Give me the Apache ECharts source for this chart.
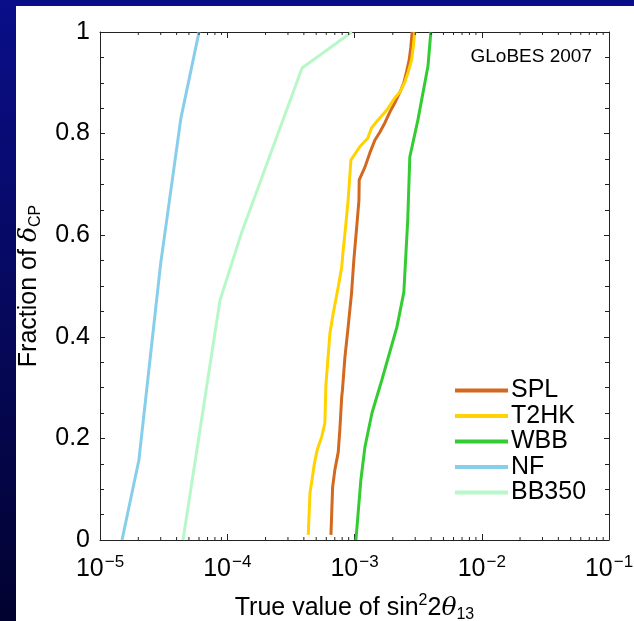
<!DOCTYPE html>
<html>
<head>
<meta charset="utf-8">
<script src="https://cdn.jsdelivr.net/npm/echarts@6/dist/echarts.min.js"></script>
<style>
html,body{margin:0;padding:0;background:#fff;}
#chart{width:634px;height:621px;}
</style>
</head>
<body>
<div id="chart"></div>
<script>
// ---- data ----
const seriesNames = ['SPL', 'T2HK', 'WBB', 'NF', 'BB350'];
const seriesColors = ['#d2691e', '#ffd200', '#33cc33', '#87ceeb', '#b8f8c8'];

const splData = [[6.53e-4,0.01],[6.73e-4,0.104],[7.01e-4,0.138],[7.45e-4,0.173],[7.67e-4,0.217],[7.93e-4,0.281],[8.04e-4,0.295],[8.41e-4,0.36],[8.91e-4,0.419],[9.48e-4,0.486],[9.88e-4,0.551],[1.057e-3,0.636],[1.084e-3,0.669],[1.089e-3,0.709],[1.208e-3,0.734],[1.32e-3,0.762],[1.445e-3,0.787],[1.585e-3,0.803],[1.73e-3,0.821],[1.90e-3,0.843],[2.07e-3,0.86],[2.28e-3,0.882],[2.44e-3,0.9],[2.56e-3,0.921],[2.69e-3,0.945],[2.77e-3,0.97],[2.84e-3,1.0]];
const t2hkData = [[4.33e-4,0.01],[4.47e-4,0.093],[4.66e-4,0.122],[4.82e-4,0.148],[5.09e-4,0.177],[5.52e-4,0.203],[5.85e-4,0.23],[5.96e-4,0.305],[6.41e-4,0.407],[6.81e-4,0.447],[7.45e-4,0.498],[7.93e-4,0.537],[8.15e-4,0.571],[8.51e-4,0.616],[8.91e-4,0.669],[9.37e-4,0.748],[1.10e-3,0.774],[1.27e-3,0.791],[1.36e-3,0.811],[1.53e-3,0.827],[1.79e-3,0.846],[2.07e-3,0.87],[2.28e-3,0.882],[2.49e-3,0.902],[2.64e-3,0.921],[2.81e-3,0.945],[2.89e-3,0.969],[2.98e-3,1.0]];
const wbbData = [[1.026e-3,0],[1.122e-3,0.118],[1.208e-3,0.183],[1.372e-3,0.25],[1.64e-3,0.315],[2.153e-3,0.419],[2.443e-3,0.488],[2.62e-3,0.63],[2.72e-3,0.754],[3.15e-3,0.827],[3.78e-3,0.933],[3.98e-3,1.0]];
const nfData = [[1.49e-5,0],[2.02e-5,0.157],[3.0e-5,0.545],[4.32e-5,0.83],[6.0e-5,1.0]];
const bb350Data = [[4.49e-5,0],[8.77e-5,0.472],[1.30e-4,0.606],[3.87e-4,0.929],[9.55e-4,1.0]];

const xTickValues = [1e-5, 1e-4, 1e-3, 1e-2, 1e-1];
const xTickSup = ['\u22125', '\u22124', '\u22123', '\u22122', '\u22121'];
const xMinorTicks = [2e-5,3e-5,4e-5,5e-5,6e-5,7e-5,8e-5,9e-5,2e-4,3e-4,4e-4,5e-4,6e-4,7e-4,8e-4,9e-4,2e-3,3e-3,4e-3,5e-3,6e-3,7e-3,8e-3,9e-3,2e-2,3e-2,4e-2,5e-2,6e-2,7e-2,8e-2,9e-2];

const FONT = 'Liberation Sans, Arial, Helvetica, sans-serif';
const allData = [splData, t2hkData, wbbData, nfData, bb350Data];

const chart = echarts.init(document.getElementById('chart'), null, {renderer: 'canvas'});

const lineSeries = seriesNames.map((n, i) => ({
  name: n,
  type: 'line',
  xAxisIndex: 0,
  yAxisIndex: 0,
  data: allData[i],
  symbol: 'none',
  smooth: false,
  lineStyle: {color: seriesColors[i], width: 3},
  itemStyle: {color: seriesColors[i]},
  z: 3,
  animation: false
}));

const minorTickSeries = {
  type: 'custom',
  xAxisIndex: 0,
  yAxisIndex: 0,
  silent: true,
  animation: false,
  clip: false,
  data: xMinorTicks.map(v => [v, 0]),
  encode: {x: 0, y: 1},
  renderItem: function (params, api) {
    const v = api.value(0);
    const pb = api.coord([v, 0]);
    const pt = api.coord([v, 1]);
    const st = {stroke: '#222', lineWidth: 1};
    return {
      type: 'group',
      children: [
        {type: 'line', shape: {x1: pb[0], y1: pb[1], x2: pb[0], y2: pb[1] - 3}, style: st},
        {type: 'line', shape: {x1: pt[0], y1: pt[1], x2: pt[0], y2: pt[1] + 3}, style: st}
      ]
    };
  },
  z: 4
};

const axisLineStyle = {show: true, onZero: false, lineStyle: {color: '#222', width: 1}};

const option = {
  backgroundColor: {
    type: 'linear', x: 0, y: 0, x2: 0, y2: 1,
    colorStops: [{offset: 0, color: '#0a0e88'}, {offset: 1, color: '#020230'}]
  },
  animation: false,
  graphic: [
    {type: 'rect', left: 16, top: 6, z: -100, silent: true,
     shape: {width: 618, height: 615}, style: {fill: '#ffffff'}},
    {type: 'text', right: 42, top: 47, z: 100, silent: true,
     style: {text: 'GLoBES 2007', fontSize: 19, fontFamily: FONT, fill: '#000'}}
  ],
  grid: {left: 100, right: 25, top: 32, bottom: 81, containLabel: false, outerBoundsMode: 'none'},
  legend: {
    orient: 'vertical',
    left: 455, top: 378,
    padding: 0,
    itemGap: 0.5,
    itemWidth: 53, itemHeight: 4,
    icon: 'rect',
    data: seriesNames,
    textStyle: {fontSize: 25, fontFamily: FONT, color: '#000', lineHeight: 22, padding: [0,0,0,-2]}
  },
  xAxis: [
    {
      type: 'log', logBase: 10, min: 1e-5, max: 1e-1, position: 'bottom',
      axisLine: axisLineStyle,
      axisTick: {show: true, inside: true, length: 6, lineStyle: {color: '#222'}},
      splitLine: {show: false},
      axisLabel: {
        margin: 14,
        color: '#000',
        fontFamily: FONT,
        formatter: function (v) {
          let idx = -1;
          for (let i = 0; i < xTickValues.length; i++) {
            if (Math.abs(Math.log10(v) - Math.log10(xTickValues[i])) < 1e-6) idx = i;
          }
          if (idx < 0) return '';
          return '{b|10}{s|' + xTickSup[idx] + '}';
        },
        rich: {
          b: {fontSize: 25, lineHeight: 30, fontFamily: FONT, color: '#000'},
          s: {fontSize: 17, lineHeight: 17, verticalAlign: 'top', fontFamily: FONT, color: '#000', padding: [0,0,0,1]}
        }
      },
      name: '{a|True value of sin}{sup|2}{a|2}{i|θ}{sub|13}',
      nameLocation: 'middle',
      nameGap: 53,
      nameTextStyle: {
        rich: {
          a: {fontSize: 25, lineHeight: 30, fontFamily: FONT, color: '#000'},
          i: {fontSize: 25, lineHeight: 30, fontFamily: 'DejaVu Serif, serif', fontStyle: 'italic', color: '#000'},
          sup: {fontSize: 16, lineHeight: 16, verticalAlign: 'top', fontFamily: FONT, color: '#000'},
          sub: {fontSize: 16, lineHeight: 16, verticalAlign: 'bottom', fontFamily: FONT, color: '#000'}
        }
      }
    },
    {
      type: 'log', logBase: 10, min: 1e-5, max: 1e-1, position: 'top',
      axisLine: axisLineStyle,
      axisTick: {show: true, inside: true, length: 6, lineStyle: {color: '#222'}},
      axisLabel: {show: false},
      splitLine: {show: false}
    }
  ],
  yAxis: [
    {
      type: 'value', min: 0, max: 1, interval: 0.2, position: 'left',
      axisLine: axisLineStyle,
      axisTick: {show: true, inside: true, length: 5, lineStyle: {color: '#222'}},
      minorTick: {show: true, splitNumber: 4, length: 4, lineStyle: {color: '#222'}},
      splitLine: {show: false},
      axisLabel: {margin: 10, fontSize: 25, fontFamily: FONT, color: '#000'},
      name: '{a|Fraction of }{i|δ}{sub|CP}',
      nameLocation: 'middle',
      nameGap: 56,
      nameRotate: 90,
      nameTextStyle: {
        rich: {
          a: {fontSize: 25, lineHeight: 30, fontFamily: FONT, color: '#000'},
          i: {fontSize: 25, lineHeight: 30, fontFamily: 'DejaVu Serif, serif', fontStyle: 'italic', color: '#000'},
          sub: {fontSize: 16, lineHeight: 16, verticalAlign: 'bottom', fontFamily: FONT, color: '#000'}
        }
      }
    },
    {
      type: 'value', min: 0, max: 1, interval: 0.2, position: 'right',
      axisLine: axisLineStyle,
      axisTick: {show: true, inside: true, length: 5, lineStyle: {color: '#222'}},
      minorTick: {show: true, splitNumber: 4, length: 4, lineStyle: {color: '#222'}},
      splitLine: {show: false},
      axisLabel: {show: false}
    }
  ],
  series: lineSeries.concat([minorTickSeries])
};

chart.setOption(option);
</script>
</body>
</html>
